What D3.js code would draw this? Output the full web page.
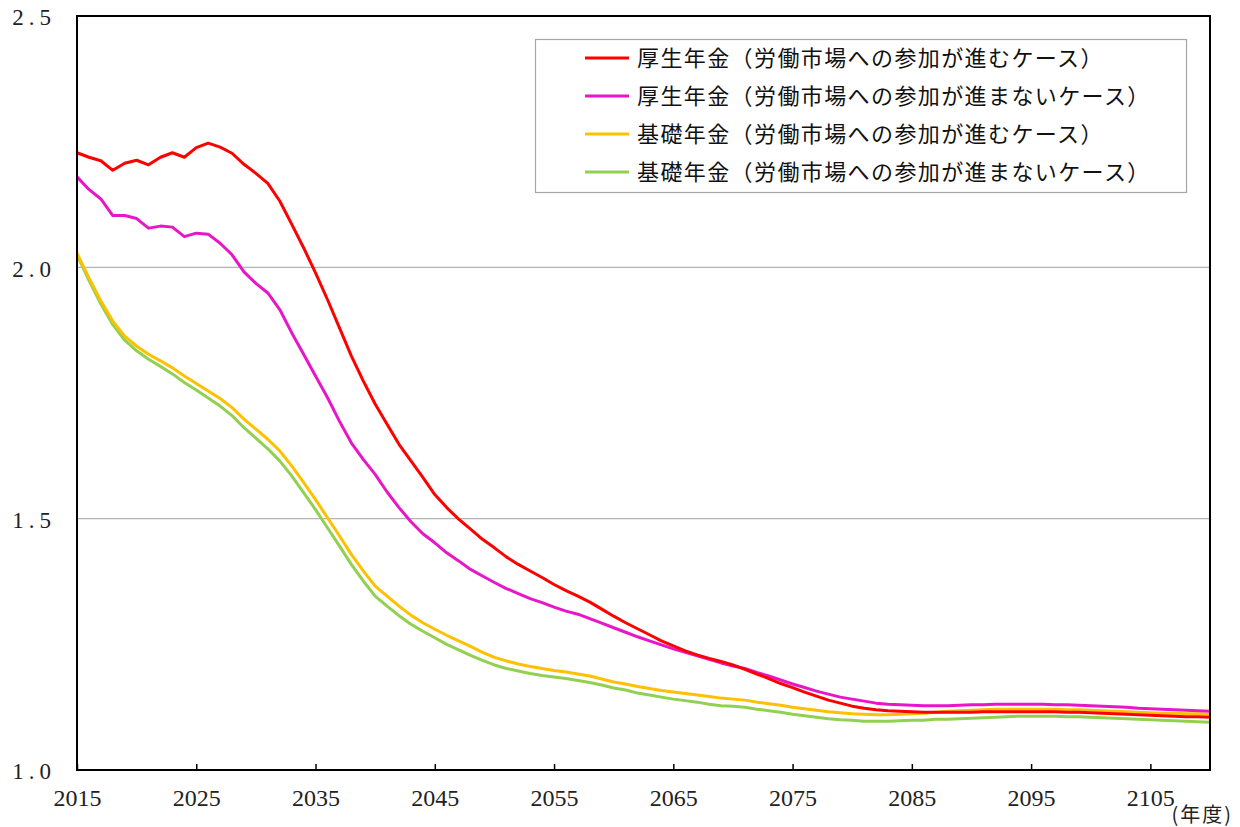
<!DOCTYPE html>
<html>
<head>
<meta charset="utf-8">
<script src="https://cdn.jsdelivr.net/npm/d3@7"></script>
<style>
  html, body { margin: 0; padding: 0; background: #ffffff; }
  svg { display: block; }
</style>
</head>
<body>
<svg id="chart" width="1240" height="827"></svg>
<script>
// ---- data ----
const years = d3.range(2015, 2111);

const seriesNames = [
  "厚生年金（労働市場への参加が進むケース）",
  "厚生年金（労働市場への参加が進まないケース）",
  "基礎年金（労働市場への参加が進むケース）",
  "基礎年金（労働市場への参加が進まないケース）"
];
const seriesColors = ["#FF0000", "#E816C8", "#FFC000", "#92D050"];

const kouseiProgress = [
  2.228, 2.219, 2.212, 2.193, 2.207, 2.213, 2.204, 2.219, 2.228, 2.219,
  2.238, 2.247, 2.239, 2.227, 2.205, 2.187, 2.167, 2.132, 2.086, 2.039,
  1.989, 1.936, 1.880, 1.824, 1.774, 1.728, 1.688, 1.648, 1.615, 1.582,
  1.548, 1.522, 1.499, 1.479, 1.459, 1.442, 1.424, 1.409, 1.396, 1.383,
  1.369, 1.357, 1.346, 1.334, 1.320, 1.306, 1.293, 1.281, 1.269, 1.257,
  1.247, 1.237, 1.229, 1.222, 1.216, 1.209, 1.200, 1.191, 1.182, 1.172,
  1.164, 1.155, 1.147, 1.139, 1.133, 1.127, 1.123, 1.120, 1.118, 1.117,
  1.116, 1.115, 1.115, 1.115, 1.115, 1.115, 1.116, 1.116, 1.116, 1.116,
  1.116, 1.116, 1.116, 1.115, 1.115, 1.114, 1.113, 1.112, 1.111, 1.110,
  1.109, 1.108, 1.107, 1.106, 1.106, 1.105
];
const kouseiNoProgress = [
  2.180, 2.155, 2.136, 2.103, 2.103, 2.097, 2.078, 2.082, 2.080, 2.061,
  2.068, 2.066, 2.048, 2.025, 1.991, 1.968, 1.949, 1.916, 1.870, 1.827,
  1.784, 1.741, 1.694, 1.651, 1.618, 1.588, 1.553, 1.522, 1.494, 1.470,
  1.452, 1.432, 1.416, 1.399, 1.386, 1.373, 1.361, 1.351, 1.341, 1.333,
  1.324, 1.316, 1.310, 1.301, 1.292, 1.283, 1.274, 1.265, 1.257, 1.249,
  1.241, 1.234, 1.227, 1.220, 1.213, 1.207, 1.202, 1.194, 1.187, 1.179,
  1.171, 1.164, 1.157, 1.151, 1.145, 1.141, 1.137, 1.133, 1.131, 1.130,
  1.129, 1.128, 1.128, 1.128, 1.129, 1.130, 1.130, 1.131, 1.131, 1.131,
  1.131, 1.131, 1.130, 1.130, 1.129, 1.128, 1.127, 1.126, 1.125, 1.123,
  1.122, 1.121, 1.120, 1.119, 1.118, 1.117
];
const kisoProgress = [
  2.028, 1.979, 1.933, 1.893, 1.863, 1.843, 1.827, 1.814, 1.800, 1.784,
  1.769, 1.754, 1.739, 1.721, 1.698, 1.678, 1.658, 1.635, 1.605, 1.572,
  1.538, 1.502, 1.466, 1.429, 1.396, 1.366, 1.346, 1.326, 1.308, 1.293,
  1.280, 1.268, 1.257, 1.246, 1.234, 1.224, 1.217, 1.211, 1.206, 1.202,
  1.198, 1.195, 1.191, 1.187, 1.181, 1.175, 1.171, 1.166, 1.162, 1.158,
  1.155, 1.152, 1.149, 1.146, 1.143, 1.141, 1.139, 1.135, 1.132, 1.129,
  1.125, 1.122, 1.119, 1.116, 1.114, 1.112, 1.111, 1.110, 1.110, 1.111,
  1.112, 1.113, 1.115, 1.117, 1.118, 1.119, 1.120, 1.121, 1.121, 1.121,
  1.121, 1.121, 1.121, 1.120, 1.120, 1.119, 1.118, 1.117, 1.116, 1.115,
  1.114, 1.113, 1.113, 1.112, 1.112, 1.111
];
const kisoNoProgress = [
  2.025, 1.974, 1.927, 1.886, 1.855, 1.834, 1.817, 1.803, 1.788, 1.771,
  1.756, 1.740, 1.724, 1.705, 1.681, 1.660, 1.639, 1.615, 1.585, 1.552,
  1.518, 1.482, 1.446, 1.409, 1.376, 1.346, 1.326, 1.307, 1.290, 1.276,
  1.263, 1.250, 1.239, 1.228, 1.218, 1.209, 1.202, 1.197, 1.192, 1.188,
  1.185, 1.182, 1.178, 1.174, 1.169, 1.163, 1.159, 1.153, 1.149, 1.145,
  1.141, 1.138, 1.135, 1.131, 1.128, 1.127, 1.125, 1.121, 1.118, 1.115,
  1.111, 1.108, 1.105, 1.102, 1.100, 1.099, 1.097, 1.097, 1.097, 1.098,
  1.099, 1.099, 1.101, 1.101, 1.102, 1.103, 1.104, 1.105, 1.106, 1.107,
  1.107, 1.107, 1.107, 1.106, 1.106, 1.105, 1.104, 1.103, 1.102, 1.101,
  1.100, 1.099, 1.098, 1.097, 1.096, 1.095
];

const xTickValues = [2015, 2025, 2035, 2045, 2055, 2065, 2075, 2085, 2095, 2105];
const yTickValues = [1.0, 1.5, 2.0, 2.5];
const gridValues = [1.5, 2.0];
const xUnitLabel = "(年度)";

// ---- layout ----
const svg = d3.select("#chart");
const plot = { left: 77, right: 1210, top: 16, bottom: 770 };

const x = d3.scaleLinear().domain([2015, 2110]).range([plot.left, plot.right]);
const y = d3.scaleLinear().domain([1.0, 2.5]).range([plot.bottom, plot.top]);

// gridlines
svg.append("g").selectAll("line").data(gridValues).join("line")
  .attr("x1", plot.left).attr("x2", plot.right)
  .attr("y1", d => y(d)).attr("y2", d => y(d))
  .attr("stroke", "#B4B4B4").attr("stroke-width", 1.2);

// series lines
const allSeries = [kouseiProgress, kouseiNoProgress, kisoProgress, kisoNoProgress];
const line = d3.line().x((d, i) => x(years[i])).y(d => y(d)).curve(d3.curveLinear);

const drawOrder = [3, 2, 1, 0];
svg.append("g").selectAll("path").data(drawOrder).join("path")
  .attr("d", k => line(allSeries[k]))
  .attr("fill", "none")
  .attr("stroke", k => seriesColors[k])
  .attr("stroke-width", 3)
  .attr("stroke-linejoin", "round");

// frame
svg.append("rect")
  .attr("x", plot.left).attr("y", plot.top)
  .attr("width", plot.right - plot.left).attr("height", plot.bottom - plot.top)
  .attr("fill", "none").attr("stroke", "#000").attr("stroke-width", 2);

// x axis
const xAxis = d3.axisBottom(x)
  .tickValues(xTickValues)
  .tickFormat(d3.format("d"))
  .tickSizeInner(-6).tickSizeOuter(0).tickPadding(19);
const gx = svg.append("g").attr("transform", `translate(0,${plot.bottom})`).call(xAxis);
gx.select(".domain").remove();
gx.selectAll(".tick line").attr("stroke", "#000").attr("stroke-width", 1.5);
gx.selectAll(".tick text")
  .attr("fill", "#222")
  .style("font-family", "'Liberation Serif', 'DejaVu Serif', serif")
  .style("font-size", "24px");

// y axis
const yAxis = d3.axisLeft(y)
  .tickValues(yTickValues)
  .tickFormat(d3.format(".1f"))
  .tickSize(0).tickPadding(21);
const gy = svg.append("g").attr("transform", `translate(${plot.left},0)`).call(yAxis);
gy.select(".domain").remove();
gy.selectAll(".tick text")
  .attr("fill", "#222")
  .attr("dy", "0.38em")
  .style("letter-spacing", "5px")
  .style("font-family", "'Liberation Serif', 'DejaVu Serif', serif")
  .style("font-size", "23px");

// unit label
svg.append("text")
  .attr("x", 1233).attr("y", 822)
  .attr("text-anchor", "end")
  .attr("fill", "#222")
  .style("font-family", "'Noto Sans CJK JP', sans-serif")
  .style("font-size", "20px")
  .style("letter-spacing", "2px")
  .text(xUnitLabel);

// legend
const legend = svg.append("g");
legend.append("rect")
  .attr("x", 535.5).attr("y", 39.5).attr("width", 651).attr("height", 153)
  .attr("fill", "#fff").attr("stroke", "#A6A6A6").attr("stroke-width", 1.2);
const items = legend.selectAll("g.item").data(seriesNames).join("g")
  .attr("class", "item")
  .attr("transform", (d, i) => `translate(0,${58 + i * 38})`);
items.append("line")
  .attr("x1", 585).attr("x2", 629).attr("y1", 0).attr("y2", 0)
  .attr("stroke", (d, i) => seriesColors[i]).attr("stroke-width", 3);
items.append("text")
  .attr("x", 637).attr("y", 0).attr("dy", "0.36em")
  .attr("fill", "#111")
  .style("font-family", "'Noto Sans CJK JP', sans-serif")
  .style("font-size", "22px")
  .style("letter-spacing", "1.4px")
  .text(d => d);
</script>
</body>
</html>
